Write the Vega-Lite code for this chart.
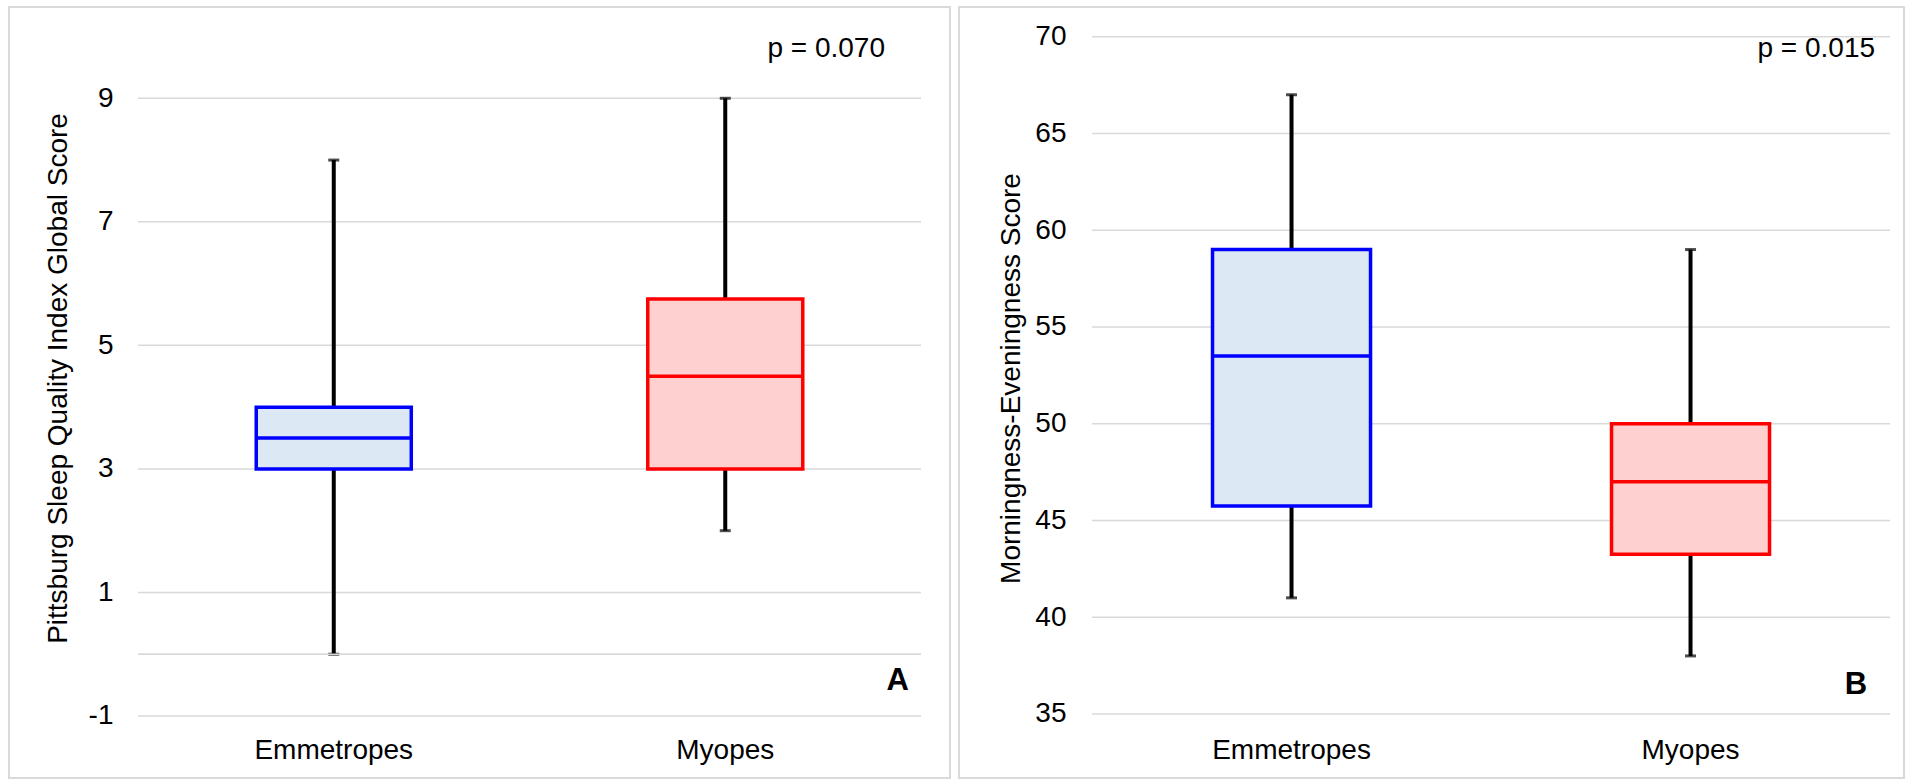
{
  "$schema": "https://vega.github.io/schema/vega-lite/v6.json",
  "background": "white",
  "padding": {"left": 8, "top": 6, "right": 0, "bottom": 0},
  "spacing": 7,
  "config": {
    "view": {"stroke": "#d9d9d9", "strokeWidth": 2},
    "font": "Liberation Sans",
    "axis": {"labelColor": "black", "titleColor": "black", "labelFont": "Liberation Sans", "titleFont": "Liberation Sans"}
  },
  "datasets": {
    "boxA": [
      {"g": "Emmetropes", "min": 0, "q1": 3, "med": 3.5, "q3": 4, "max": 8},
      {"g": "Myopes", "min": 2, "q1": 3, "med": 4.5, "q3": 5.75, "max": 9}
    ],
    "boxB": [
      {"g": "Emmetropes", "min": 41, "q1": 45.75, "med": 53.5, "q3": 59, "max": 67},
      {"g": "Myopes", "min": 38, "q1": 43.25, "med": 47, "q3": 50, "max": 59}
    ],
    "gridA": [
      {"v": -1, "a": "Emmetropes", "b": "Myopes"},
      {"v": 0, "a": "Emmetropes", "b": "Myopes"},
      {"v": 1, "a": "Emmetropes", "b": "Myopes"},
      {"v": 3, "a": "Emmetropes", "b": "Myopes"},
      {"v": 5, "a": "Emmetropes", "b": "Myopes"},
      {"v": 7, "a": "Emmetropes", "b": "Myopes"},
      {"v": 9, "a": "Emmetropes", "b": "Myopes"}
    ],
    "gridB": [
      {"v": 35, "a": "Emmetropes", "b": "Myopes"},
      {"v": 40, "a": "Emmetropes", "b": "Myopes"},
      {"v": 45, "a": "Emmetropes", "b": "Myopes"},
      {"v": 50, "a": "Emmetropes", "b": "Myopes"},
      {"v": 55, "a": "Emmetropes", "b": "Myopes"},
      {"v": 60, "a": "Emmetropes", "b": "Myopes"},
      {"v": 65, "a": "Emmetropes", "b": "Myopes"},
      {"v": 70, "a": "Emmetropes", "b": "Myopes"}
    ],
    "noteA": [
      {"g": "Myopes", "v": 9.8, "label": "p = 0.070", "kind": "p"},
      {"g": "Myopes", "v": -0.43, "label": "A", "kind": "panel"}
    ],
    "noteB": [
      {"g": "Myopes", "v": 69.38, "label": "p = 0.015", "kind": "p"},
      {"g": "Myopes", "v": 36.5, "label": "B", "kind": "panel"}
    ]
  },
  "hconcat": [
    {
      "width": 941,
      "height": 771,
      "layer": [
        {
          "data": {"name": "gridA"},
          "mark": {"type": "rule", "color": "#d9d9d9", "strokeWidth": 1.5},
          "encoding": {
            "y": {"field": "v", "type": "quantitative", "title": "Pittsburg Sleep Quality Index Global Score",
              "scale": {"domain": [-2.004, 10.478], "nice": false, "zero": false},
              "axis": {"values": [-1, 1, 3, 5, 7, 9], "labelExpr": "'' + datum.value", "grid": false, "domain": false, "ticks": false, "labelFontSize": 28, "labelPadding": 25, "offset": -129, "titleFontSize": 28, "titleFontWeight": "normal", "titleX": -80, "titleY": 371, "titleAngle": -90, "titleAlign": "center", "titleBaseline": "middle", "labelOverlap": false, "labelFlush": false}},
            "x": {"field": "a", "type": "nominal", "bandPosition": 0, "title": null,
              "scale": {"domain": ["Emmetropes", "Myopes"], "paddingInner": 0, "paddingOuter": 0.2018, "align": 0.8165},
              "axis": {"domain": false, "ticks": false, "grid": false, "labelFontSize": 28, "labelPadding": 0, "labelBaseline": "middle", "labelAngle": 0, "offset": -28}},
            "x2": {"field": "b", "bandPosition": 1}
          }
        },
        {
          "data": {"name": "boxA"},
          "mark": {"type": "rule", "color": "black", "strokeWidth": 4},
          "encoding": {
            "x": {"field": "g", "type": "nominal", "title": null},
            "y": {"field": "min", "type": "quantitative", "title": "Pittsburg Sleep Quality Index Global Score"},
            "y2": {"field": "max"}
          }
        },
        {
          "data": {"name": "boxA"},
          "mark": {"type": "tick", "color": "black", "size": 11, "thickness": 3},
          "encoding": {
            "x": {"field": "g", "type": "nominal", "title": null},
            "y": {"field": "max", "type": "quantitative", "title": "Pittsburg Sleep Quality Index Global Score"}
          }
        },
        {
          "data": {"name": "boxA"},
          "mark": {"type": "tick", "color": "black", "size": 11, "thickness": 3},
          "encoding": {
            "x": {"field": "g", "type": "nominal", "title": null},
            "y": {"field": "min", "type": "quantitative", "title": "Pittsburg Sleep Quality Index Global Score"}
          }
        },
        {
          "data": {"name": "boxA"},
          "mark": {"type": "bar", "strokeWidth": 3.5, "width": {"band": 0.396}},
          "encoding": {
            "x": {"field": "g", "type": "nominal", "title": null},
            "y": {"field": "q1", "type": "quantitative", "title": "Pittsburg Sleep Quality Index Global Score"},
            "y2": {"field": "q3"},
            "fill": {"field": "g", "type": "nominal", "scale": {"domain": ["Emmetropes", "Myopes"], "range": ["#dde8f5", "#ffd0d0"]}, "legend": null},
            "stroke": {"field": "g", "type": "nominal", "scale": {"domain": ["Emmetropes", "Myopes"], "range": ["#0000ff", "#ff0000"]}, "legend": null}
          }
        },
        {
          "data": {"name": "boxA"},
          "mark": {"type": "bar", "strokeWidth": 3.5, "fillOpacity": 0, "width": {"band": 0.396}},
          "encoding": {
            "x": {"field": "g", "type": "nominal", "title": null},
            "y": {"field": "med", "type": "quantitative", "title": "Pittsburg Sleep Quality Index Global Score"},
            "y2": {"field": "med"},
            "stroke": {"field": "g", "type": "nominal", "legend": null}
          }
        },
        {
          "data": {"name": "gridA"},
          "transform": [{"filter": "datum.v == 0"}],
          "mark": {"type": "rule", "color": "#d9d9d9", "strokeWidth": 1.5},
          "encoding": {
            "y": {"field": "v", "type": "quantitative", "title": "Pittsburg Sleep Quality Index Global Score"},
            "x": {"field": "a", "type": "nominal", "bandPosition": 0, "title": null},
            "x2": {"field": "b", "bandPosition": 1}
          }
        },
        {
          "data": {"name": "noteA"},
          "transform": [{"filter": "datum.kind == 'p'"}],
          "mark": {"type": "text", "align": "right", "baseline": "middle", "fontSize": 28, "dx": -36, "color": "black"},
          "encoding": {
            "x": {"field": "g", "type": "nominal", "bandPosition": 1, "title": null},
            "y": {"field": "v", "type": "quantitative", "title": "Pittsburg Sleep Quality Index Global Score"},
            "text": {"field": "label"}
          }
        },
        {
          "data": {"name": "noteA"},
          "transform": [{"filter": "datum.kind == 'panel'"}],
          "mark": {"type": "text", "align": "right", "baseline": "middle", "fontSize": 31, "fontWeight": "bold", "dx": -12, "color": "black"},
          "encoding": {
            "x": {"field": "g", "type": "nominal", "bandPosition": 1, "title": null},
            "y": {"field": "v", "type": "quantitative", "title": "Pittsburg Sleep Quality Index Global Score"},
            "text": {"field": "label"}
          }
        }
      ]
    },
    {
      "width": 945,
      "height": 771,
      "layer": [
        {
          "data": {"name": "gridB"},
          "mark": {"type": "rule", "color": "#d9d9d9", "strokeWidth": 1.5},
          "encoding": {
            "y": {"field": "v", "type": "quantitative", "title": "Morningness-Eveningness Score",
              "scale": {"domain": [31.69, 71.535], "nice": false, "zero": false},
              "axis": {"values": [35, 40, 45, 50, 55, 60, 65, 70], "labelExpr": "'' + datum.value", "grid": false, "domain": false, "ticks": false, "labelFontSize": 28, "labelPadding": 26, "offset": -133, "titleFontSize": 28, "titleFontWeight": "normal", "titleX": -81, "titleY": 371, "titleAngle": -90, "titleAlign": "center", "titleBaseline": "middle", "labelOverlap": false, "labelFlush": false}},
            "x": {"field": "a", "type": "nominal", "bandPosition": 0, "title": null,
              "scale": {"domain": ["Emmetropes", "Myopes"], "paddingInner": 0, "paddingOuter": 0.1842, "align": 0.905},
              "axis": {"domain": false, "ticks": false, "grid": false, "labelFontSize": 28, "labelPadding": 0, "labelBaseline": "middle", "labelAngle": 0, "offset": -28}},
            "x2": {"field": "b", "bandPosition": 1}
          }
        },
        {
          "data": {"name": "boxB"},
          "mark": {"type": "rule", "color": "black", "strokeWidth": 4},
          "encoding": {
            "x": {"field": "g", "type": "nominal", "title": null},
            "y": {"field": "min", "type": "quantitative", "title": "Morningness-Eveningness Score"},
            "y2": {"field": "max"}
          }
        },
        {
          "data": {"name": "boxB"},
          "mark": {"type": "tick", "color": "black", "size": 11, "thickness": 3},
          "encoding": {
            "x": {"field": "g", "type": "nominal", "title": null},
            "y": {"field": "max", "type": "quantitative", "title": "Morningness-Eveningness Score"}
          }
        },
        {
          "data": {"name": "boxB"},
          "mark": {"type": "tick", "color": "black", "size": 11, "thickness": 3},
          "encoding": {
            "x": {"field": "g", "type": "nominal", "title": null},
            "y": {"field": "min", "type": "quantitative", "title": "Morningness-Eveningness Score"}
          }
        },
        {
          "data": {"name": "boxB"},
          "mark": {"type": "bar", "strokeWidth": 3.5, "width": {"band": 0.396}},
          "encoding": {
            "x": {"field": "g", "type": "nominal", "title": null},
            "y": {"field": "q1", "type": "quantitative", "title": "Morningness-Eveningness Score"},
            "y2": {"field": "q3"},
            "fill": {"field": "g", "type": "nominal", "scale": {"domain": ["Emmetropes", "Myopes"], "range": ["#dde8f5", "#ffd0d0"]}, "legend": null},
            "stroke": {"field": "g", "type": "nominal", "scale": {"domain": ["Emmetropes", "Myopes"], "range": ["#0000ff", "#ff0000"]}, "legend": null}
          }
        },
        {
          "data": {"name": "boxB"},
          "mark": {"type": "bar", "strokeWidth": 3.5, "fillOpacity": 0, "width": {"band": 0.396}},
          "encoding": {
            "x": {"field": "g", "type": "nominal", "title": null},
            "y": {"field": "med", "type": "quantitative", "title": "Morningness-Eveningness Score"},
            "y2": {"field": "med"},
            "stroke": {"field": "g", "type": "nominal", "legend": null}
          }
        },
        {
          "data": {"name": "noteB"},
          "transform": [{"filter": "datum.kind == 'p'"}],
          "mark": {"type": "text", "align": "right", "baseline": "middle", "fontSize": 28, "dx": -15, "color": "black"},
          "encoding": {
            "x": {"field": "g", "type": "nominal", "bandPosition": 1, "title": null},
            "y": {"field": "v", "type": "quantitative", "title": "Morningness-Eveningness Score"},
            "text": {"field": "label"}
          }
        },
        {
          "data": {"name": "noteB"},
          "transform": [{"filter": "datum.kind == 'panel'"}],
          "mark": {"type": "text", "align": "right", "baseline": "middle", "fontSize": 31, "fontWeight": "bold", "dx": -23, "color": "black"},
          "encoding": {
            "x": {"field": "g", "type": "nominal", "bandPosition": 1, "title": null},
            "y": {"field": "v", "type": "quantitative", "title": "Morningness-Eveningness Score"},
            "text": {"field": "label"}
          }
        }
      ]
    }
  ]
}
